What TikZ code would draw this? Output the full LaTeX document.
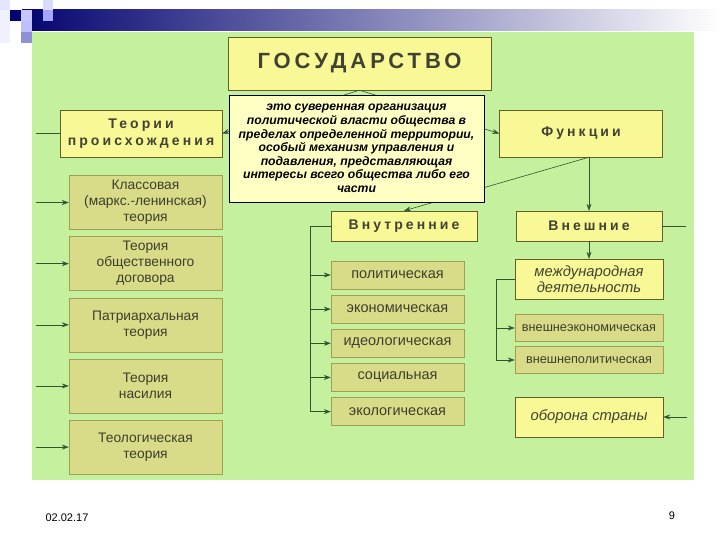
\documentclass[tikz,border=0pt]{standalone}
\usepackage{fontspec}
\setmainfont{Liberation Sans}
\newfontfamily\spaced[LetterSpace=22]{Liberation Sans}
\newfontfamily\spacedtitle[LetterSpace=18]{Liberation Sans}
\usetikzlibrary{positioning,arrows.meta,calc}

\definecolor{panelgreen}{RGB}{197,240,158}
\definecolor{boxyellow}{RGB}{248,248,150}
\definecolor{defyellow}{RGB}{255,255,196}
\definecolor{boxline}{RGB}{96,96,40}
\definecolor{olivefill}{RGB}{216,220,136}
\definecolor{oliveline}{RGB}{160,160,84}
\definecolor{headtext}{RGB}{66,66,50}
\definecolor{subtext}{RGB}{62,62,44}
\definecolor{wire}{RGB}{50,84,50}
\definecolor{navy}{RGB}{4,4,112}

\begin{document}
\begin{tikzpicture}[
    x=1pt, y=-1pt,
    font=\fontsize{13}{15}\selectfont,
    head/.style={draw=boxline, fill=boxyellow, text=headtext, align=center, inner sep=0pt, font=\spaced\bfseries\fontsize{14}{16.5}\selectfont},
    theory/.style={draw=oliveline, fill=olivefill, text=subtext, align=center, inner sep=0pt, minimum width=153, minimum height=54, font=\fontsize{13.8}{16}\selectfont},
    fnbox/.style={draw=oliveline, fill=olivefill, text=subtext, align=center, inner sep=0pt, minimum width=133, minimum height=28, font=\fontsize{14.5}{15}\selectfont},
    extbox/.style={draw=oliveline, fill=olivefill, text=subtext, align=center, inner sep=0pt, minimum width=148, minimum height=27, font=\fontsize{12.7}{14}\selectfont},
    itbox/.style={draw=boxline, fill=boxyellow, text=headtext, align=center, inner sep=0pt, minimum width=148, minimum height=40, font=\itshape\fontsize{14.8}{15.5}\selectfont},
    arrow/.style={-{Stealth[length=7pt, width=5pt]}, draw=wire, semithick},
    wireline/.style={draw=wire, semithick}
]
\useasboundingbox (0,0) rectangle (720,540);
\fill[white] (0,0) rectangle (720,540);

% ===== Slide frame =====
\shade[left color=navy, right color=white] (22,10) rectangle (720,31);
\fill[blue!6] (0,10) rectangle (10,43);
\fill[blue!10] (0,0) rectangle (10,10);
\fill[navy] (10,10) rectangle (21,21);
\fill[blue!22!white] (21,10) rectangle (32,21);
\fill[blue!14!white] (43,0) rectangle (53,10);
\fill[blue!35!white] (43,10) rectangle (53,21);
\fill[blue!25!white] (21,21) rectangle (32,32);
\fill[blue!45!gray!60] (21,32) rectangle (32,43);
\fill[panelgreen] (32,32) rectangle (694,480);

% ===== State =====
\node[head, minimum width=263, minimum height=53, font=\spacedtitle\bfseries\fontsize{22}{24}\selectfont] (gos) at (359.5,63.5) {ГОСУДАРСТВО};

% ===== Origin and functions =====
\node[head, minimum width=162, minimum height=47] (origin) at (141,133.5) {Теории\\происхождения};
\node[head, minimum width=163, minimum height=47] (func) at (581,133.5) {Функции};
\node[head, minimum width=146, minimum height=30] (inner) at (404,226) {Внутренние};
\node[head, minimum width=146, minimum height=30] (outer) at (589,226) {Внешние};

% branches hidden under the definition
\coordinate (fsplit) at (outer.north |- func.south);
\draw[arrow] (gos.south) -- (origin.east);
\draw[arrow] (gos.south) -- (func.west);
\draw[arrow] (fsplit) -- (inner.north);
\draw[arrow] (fsplit) -- (outer.north);

% ===== Definition =====
\node[draw=black, fill=defyellow, minimum width=255, minimum height=107, align=center, inner sep=0pt,
      font=\bfseries\itshape\fontsize{12.2}{13.6}\selectfont] (defn) at (356.5,148.5)
    {это  суверенная организация\\
     политической власти общества в\\
     пределах определенной территории,\\
     особый механизм управления  и\\
     подавления, представляющая\\
     интересы всего общества либо его\\
     части};

% ===== Theories of origin =====
\node[theory] (th1) at (145.5,202.5) {Классовая\\(маркс.-ленинская)\\теория};
\node[theory, below=6.75pt of th1] (th2) {Теория\\общественного\\договора};
\node[theory, below=6.75pt of th2] (th3) {Патриархальная\\теория};
\node[theory, below=6.75pt of th3] (th4) {Теория\\насилия};
\node[theory, below=6.75pt of th4] (th5) {Теологическая\\теория};

\coordinate (oin) at (36,133.5);
\draw[wireline] (oin) -- (origin.west);
\foreach \t in {th1,th2,th3,th4,th5}
    \draw[arrow] (\t.west -| oin) -- (\t.west);

% ===== Inner functions =====
\node[fnbox] (pol) at (397.5,275) {политическая};
\node[fnbox, below=5.75pt of pol] (eco) {экономическая};
\node[fnbox, below=5.75pt of eco] (ideo) {идеологическая};
\node[fnbox, below=5.75pt of ideo] (soc) {социальная};
\node[fnbox, below=5.75pt of soc] (env) {экологическая};

\coordinate (ibus) at (310,226);
\draw[wireline] (inner.west) -- (ibus) -- (ibus |- env.west);
\foreach \f in {pol,eco,ideo,soc,env}
    \draw[arrow] (ibus |- \f.west) -- (\f.west);

% ===== Outer functions =====
\node[itbox] (intl) at (589,279) {международная\\деятельность};
\node[extbox] (xeco) at (589,328) {внешнеэкономическая};
\node[extbox] (xpol) at (589,360) {внешнеполитическая};
\node[itbox] (def) at (589,417) {оборона  страны};

\draw[arrow] (outer.south) -- (intl.north);
\coordinate (obus) at (496,279);
\draw[wireline] (intl.west) -- (obus) -- (obus |- xpol.west);
\draw[arrow] (obus |- xeco.west) -- (xeco.west);
\draw[arrow] (obus |- xpol.west) -- (xpol.west);

\coordinate (oout) at ($(outer.east)+(24,0)$);
\draw[wireline] (outer.east) -- (oout);
\coordinate (dfin) at ($(def.east)+(24,0)$);
\draw[arrow] (dfin) -- (def.east);

% ===== Footer =====
\node[font=\fontsize{11}{12}\selectfont] (date) at (67,518) {02.02.17};
\node[font=\fontsize{11}{12}\selectfont] (page) at (672,516) {9};

\end{tikzpicture}
\end{document}
